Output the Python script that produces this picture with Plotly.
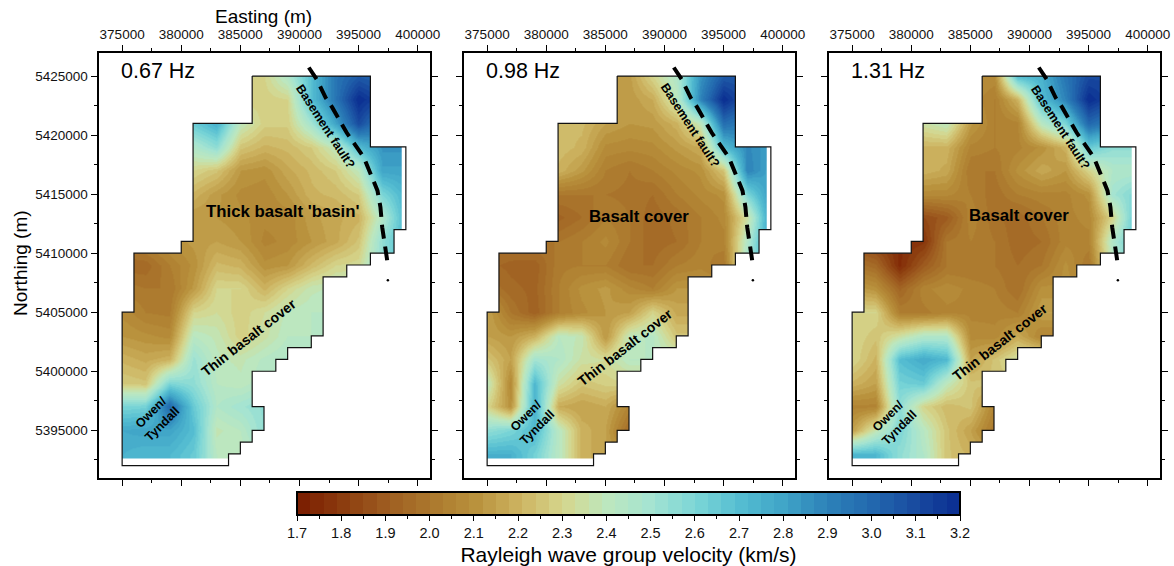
import numpy as np
import plotly.graph_objects as go

W, H = 1174, 566
FONT = "Liberation Sans"

# ---------- data ----------
EASTING = [375000, 377000, 379000, 381000, 383000, 385000, 387000, 389000, 391000, 393000, 395000, 397000, 399000]
NORTHING = [5425000, 5423000, 5421000, 5419000, 5417000, 5415000, 5413000, 5411000, 5409000,
            5407000, 5405000, 5403000, 5401000, 5399000, 5397000, 5395000, 5393000]

V_067 = [
    [2.65, 2.65, 2.65, 2.60, 2.45, 2.30, 2.30, 2.45, 2.70, 2.95, 3.05, 3.00, 3.00],
    [2.65, 2.65, 2.65, 2.65, 2.50, 2.28, 2.28, 2.30, 2.70, 2.95, 3.20, 3.10, 3.00],
    [2.60, 2.60, 2.65, 2.65, 2.75, 2.40, 2.28, 2.28, 2.50, 2.80, 3.10, 2.90, 2.85],
    [2.40, 2.40, 2.45, 2.45, 2.55, 2.25, 2.20, 2.22, 2.27, 2.40, 2.70, 2.85, 2.85],
    [2.25, 2.25, 2.28, 2.30, 2.25, 2.12, 2.10, 2.17, 2.22, 2.27, 2.40, 2.80, 2.80],
    [2.15, 2.15, 2.18, 2.20, 2.13, 2.08, 2.07, 2.12, 2.20, 2.22, 2.27, 2.60, 2.75],
    [2.10, 2.10, 2.12, 2.12, 2.12, 2.10, 2.07, 2.07, 2.14, 2.17, 2.20, 2.45, 2.75],
    [2.00, 2.05, 2.10, 2.13, 2.15, 2.12, 2.05, 2.07, 2.12, 2.17, 2.25, 2.55, 2.75],
    [1.95, 1.95, 2.03, 2.10, 2.22, 2.20, 2.10, 2.12, 2.22, 2.30, 2.32, 2.55, 2.75],
    [2.02, 2.00, 2.00, 2.13, 2.30, 2.30, 2.20, 2.30, 2.38, 2.40, 2.40, 2.40, 2.40],
    [2.08, 2.03, 2.02, 2.30, 2.33, 2.28, 2.33, 2.40, 2.42, 2.42, 2.42, 2.42, 2.42],
    [2.12, 2.10, 2.08, 2.42, 2.38, 2.28, 2.35, 2.42, 2.42, 2.42, 2.42, 2.42, 2.42],
    [2.20, 2.17, 2.20, 2.52, 2.40, 2.38, 2.43, 2.46, 2.46, 2.46, 2.46, 2.46, 2.46],
    [2.27, 2.25, 2.60, 2.55, 2.42, 2.40, 2.45, 2.46, 2.46, 2.46, 2.46, 2.46, 2.46],
    [2.60, 2.62, 3.00, 2.65, 2.45, 2.50, 2.55, 2.55, 2.55, 2.55, 2.55, 2.55, 2.55],
    [2.78, 2.80, 2.80, 2.70, 2.38, 2.42, 2.55, 2.55, 2.55, 2.55, 2.55, 2.55, 2.55],
    [2.75, 2.72, 2.72, 2.65, 2.42, 2.40, 2.45, 2.45, 2.45, 2.45, 2.45, 2.45, 2.45],
]
V_098 = [
    [2.20, 2.20, 2.20, 2.20, 2.18, 2.15, 2.14, 2.30, 2.45, 2.85, 3.05, 3.05, 3.00],
    [2.20, 2.20, 2.20, 2.20, 2.18, 2.14, 2.13, 2.18, 2.40, 2.90, 3.20, 3.05, 3.00],
    [2.22, 2.22, 2.22, 2.22, 2.22, 2.15, 2.12, 2.13, 2.20, 2.40, 2.98, 2.90, 2.85],
    [2.22, 2.22, 2.22, 2.23, 2.20, 2.08, 2.07, 2.08, 2.13, 2.18, 2.70, 2.88, 2.80],
    [2.20, 2.20, 2.20, 2.20, 2.13, 2.03, 2.00, 2.03, 2.07, 2.10, 2.25, 2.90, 2.78],
    [2.00, 2.00, 2.00, 2.00, 2.00, 2.00, 1.99, 1.97, 2.03, 2.07, 2.10, 2.60, 2.85],
    [1.95, 1.95, 1.95, 1.93, 1.97, 2.03, 2.00, 1.95, 1.98, 2.03, 2.07, 2.35, 2.85],
    [1.98, 1.98, 2.00, 2.00, 2.03, 2.07, 2.00, 1.95, 1.97, 2.03, 2.05, 2.45, 2.85],
    [1.95, 1.93, 1.92, 2.02, 2.03, 2.03, 1.97, 1.97, 2.03, 2.05, 2.00, 2.50, 2.85],
    [2.00, 1.95, 1.93, 2.03, 2.10, 2.13, 2.07, 2.03, 2.12, 2.12, 2.10, 2.10, 2.10],
    [2.15, 2.00, 1.92, 2.03, 2.08, 2.12, 2.15, 2.30, 2.17, 2.17, 2.17, 2.17, 2.17],
    [2.15, 2.12, 2.20, 2.42, 2.38, 2.12, 2.40, 2.43, 2.25, 2.25, 2.25, 2.25, 2.25],
    [2.25, 2.15, 2.50, 2.45, 2.35, 2.33, 2.42, 2.42, 2.42, 2.42, 2.42, 2.42, 2.42],
    [2.40, 2.07, 2.72, 2.35, 2.25, 2.28, 2.30, 2.30, 2.30, 2.30, 2.30, 2.30, 2.30],
    [2.30, 2.10, 2.75, 2.18, 2.15, 2.18, 2.05, 2.05, 2.05, 2.05, 2.05, 2.05, 2.05],
    [2.55, 2.60, 2.72, 2.42, 2.20, 2.15, 1.95, 1.95, 1.95, 1.95, 1.95, 1.95, 1.95],
    [2.75, 2.75, 2.62, 2.42, 2.20, 2.15, 2.10, 2.10, 2.10, 2.10, 2.10, 2.10, 2.10],
]
V_131 = [
    [2.30, 2.30, 2.30, 2.30, 2.20, 2.10, 2.08, 2.70, 2.75, 2.95, 3.10, 3.10, 3.00],
    [2.30, 2.30, 2.30, 2.30, 2.20, 2.08, 2.03, 2.20, 2.70, 2.90, 3.20, 3.10, 3.00],
    [2.35, 2.35, 2.35, 2.35, 2.40, 2.13, 2.03, 2.05, 2.42, 2.60, 3.00, 2.90, 2.70],
    [2.20, 2.20, 2.20, 2.20, 2.20, 2.05, 2.03, 2.05, 2.10, 2.20, 2.65, 2.55, 2.55],
    [2.20, 2.20, 2.20, 2.20, 2.17, 2.00, 2.00, 2.10, 2.17, 2.12, 2.30, 2.45, 2.45],
    [2.07, 2.07, 2.07, 2.07, 2.07, 2.03, 1.98, 2.03, 2.05, 2.05, 2.10, 2.50, 2.60],
    [1.85, 1.85, 1.85, 1.85, 1.90, 2.05, 1.98, 1.95, 2.00, 2.05, 2.07, 2.30, 2.70],
    [1.85, 1.80, 1.75, 1.78, 2.00, 2.03, 2.00, 1.95, 1.97, 2.05, 2.05, 2.45, 2.70],
    [2.00, 1.95, 1.75, 1.90, 2.00, 2.00, 2.00, 1.97, 2.00, 2.10, 2.00, 2.40, 2.70],
    [2.15, 2.10, 1.93, 2.05, 2.08, 2.05, 2.03, 1.97, 2.10, 2.10, 2.10, 2.10, 2.10],
    [2.30, 2.30, 2.03, 2.02, 2.05, 2.05, 2.05, 2.03, 2.15, 2.15, 2.15, 2.15, 2.15],
    [2.30, 2.25, 2.35, 2.45, 2.45, 2.08, 2.07, 2.18, 2.05, 2.05, 2.05, 2.05, 2.05],
    [2.30, 2.20, 2.70, 2.78, 2.72, 2.15, 2.25, 2.35, 2.35, 2.35, 2.35, 2.35, 2.35],
    [2.20, 2.15, 2.62, 2.65, 2.40, 2.25, 2.25, 2.25, 2.25, 2.25, 2.25, 2.25, 2.25],
    [2.05, 2.05, 2.55, 2.30, 2.22, 2.25, 2.05, 2.05, 2.05, 2.05, 2.05, 2.05, 2.05],
    [2.15, 2.38, 2.60, 2.42, 2.25, 2.15, 2.00, 2.00, 2.00, 2.00, 2.00, 2.00, 2.00],
    [2.72, 2.72, 2.55, 2.45, 2.25, 2.20, 2.15, 2.15, 2.15, 2.15, 2.15, 2.15, 2.15],
]
PANEL_LABELS = ["0.67 Hz", "0.98 Hz", "1.31 Hz"]
PANEL_VALUES = [V_067, V_098, V_131]

OUTLINE_X = [386000, 396000, 396000, 399000, 399000, 398000, 398000, 396000, 396000, 394000, 394000, 392000, 392000,
             391000, 391000, 389000, 389000, 388000, 388000, 386000, 386000, 387000, 387000, 386000, 386000, 385000,
             385000, 384000, 384000, 375000, 375000, 376000, 376000, 380000, 380000, 381000, 381000, 386000, 386000]
OUTLINE_Y = [5425000, 5425000, 5419000, 5419000, 5412000, 5412000, 5410000, 5410000, 5409000, 5409000, 5408000, 5408000, 5403000,
             5403000, 5402000, 5402000, 5401000, 5401000, 5400000, 5400000, 5397000, 5397000, 5395000, 5395000, 5394000, 5394000,
             5393000, 5393000, 5392000, 5392000, 5405000, 5405000, 5410000, 5410000, 5411000, 5411000, 5421000, 5421000, 5425000]
DATA_EAST_LIMIT = 398650
DATA_SOUTH_LIMIT = 5392600

FAULT_X = [390790, 391500, 392200, 392770, 394000, 395450, 396600, 396850, 397000, 397280, 397420]
FAULT_Y = [5425730, 5424660, 5423200, 5422350, 5420200, 5418100, 5415300, 5413900, 5412200, 5410500, 5409400]
FAULT_DOT_X = [397480]
FAULT_DOT_Y = [5407700]

# colour ramp: velocity -> colour
RAMP_V = [1.7, 1.8, 1.9, 2.0, 2.1, 2.2, 2.3, 2.4, 2.5, 2.6, 2.7, 2.8, 2.9, 3.0, 3.1, 3.2]
RAMP_R = [122, 140, 158, 172, 185, 205, 214, 190, 165, 125, 85, 65, 45, 35, 25, 10]
RAMP_G = [28, 60, 92, 120, 145, 178, 214, 232, 228, 215, 190, 165, 130, 105, 75, 45]
RAMP_B = [0, 15, 32, 45, 60, 95, 140, 190, 210, 215, 210, 200, 185, 175, 160, 145]
VMIN, VMAX, NBANDS = 1.7, 3.2, 50

stops = []
for i in range(NBANDS):
    mid = VMIN + (i + 0.5) * (VMAX - VMIN) / NBANDS
    c = "rgb(%d,%d,%d)" % (np.interp(mid, RAMP_V, RAMP_R), np.interp(mid, RAMP_V, RAMP_G), np.interp(mid, RAMP_V, RAMP_B))
    stops += [[i / NBANDS, c], [(i + 1) / NBANDS, c]]

# ---------- layout helpers ----------
X_RANGE = [373000, 401000]
Y_RANGE = [5391000, 5427000]
PANEL_PX = [(98.5, 429.5), (463.5, 794.5), (828.5, 1159.5)]
TOP_PX, BOTTOM_PX = 52.5, 477.5


def px(x):
    return x / W


def py(y):
    return 1 - y / H


fig = go.Figure()
mask_x = list(np.minimum(OUTLINE_X, DATA_EAST_LIMIT)) + [X_RANGE[0], X_RANGE[0], X_RANGE[1], X_RANGE[1], X_RANGE[0], X_RANGE[0], OUTLINE_X[0]]
mask_y = list(np.maximum(OUTLINE_Y, DATA_SOUTH_LIMIT)) + [Y_RANGE[1], Y_RANGE[0], Y_RANGE[0], Y_RANGE[1], Y_RANGE[1], Y_RANGE[1], OUTLINE_Y[0]]

layout_axes = {}
for i, (vals, (l, r)) in enumerate(zip(PANEL_VALUES, PANEL_PX)):
    n = "" if i == 0 else str(i + 1)
    xa, ya = "x" + n, "y" + n
    fig.add_trace(go.Heatmap(x=EASTING, y=NORTHING, z=vals, coloraxis="coloraxis", zsmooth="best",
                             xaxis=xa, yaxis=ya, hoverinfo="skip"))
    fig.add_trace(go.Scatter(x=mask_x, y=mask_y, mode="none", fill="toself", fillcolor="white",
                             xaxis=xa, yaxis=ya, showlegend=False, hoverinfo="skip"))
    fig.add_trace(go.Scatter(x=OUTLINE_X, y=OUTLINE_Y, mode="lines", line=dict(color="#111", width=1.2),
                             xaxis=xa, yaxis=ya, showlegend=False, hoverinfo="skip"))
    fig.add_trace(go.Scatter(x=FAULT_X, y=FAULT_Y, mode="lines", line=dict(color="black", width=4, dash="14px,8px"),
                             xaxis=xa, yaxis=ya, showlegend=False, hoverinfo="skip"))
    fig.add_trace(go.Scatter(x=FAULT_DOT_X, y=FAULT_DOT_Y, mode="markers", marker=dict(color="black", size=2.5),
                             xaxis=xa, yaxis=ya, showlegend=False, hoverinfo="skip"))
    common = dict(showline=True, linecolor="black", linewidth=2, mirror="ticks", ticks="outside", ticklen=6,
                  tickwidth=1, tickcolor="black", showgrid=False, zeroline=False, tick0=0, dtick=5000,
                  tickformat="d", tickfont=dict(family=FONT, size=13.5, color="#111"),
                  minor=dict(ticks="outside", ticklen=3, tickwidth=1, tickcolor="black", dtick=2500, tick0=0, showgrid=False))
    layout_axes["xaxis" + n] = dict(common, domain=[px(l), px(r)], range=X_RANGE, side="top", anchor=ya)
    layout_axes["yaxis" + n] = dict(common, domain=[py(BOTTOM_PX), py(TOP_PX)], range=Y_RANGE, anchor=xa,
                                    showticklabels=(i == 0))

# minor ticks of the scale bar
fig.add_trace(go.Scatter(x=[VMIN], y=[0], mode="markers", opacity=0, xaxis="x4", yaxis="y4",
                         showlegend=False, hoverinfo="skip"))
layout_axes["xaxis4"] = dict(domain=[px(297), px(960)], range=[VMIN, VMAX], anchor="y4", side="bottom", showgrid=False,
                             zeroline=False, showline=False, showticklabels=False, ticks="outside", ticklen=3,
                             tickwidth=1, tickcolor="black", tick0=1.75, dtick=0.1)
layout_axes["yaxis4"] = dict(domain=[py(515), py(491)], range=[-1, 1], visible=False, anchor="x4")

ann = []


def text(x, y, s, size, bold=False, angle=0, anchor="center"):
    ann.append(dict(xref="paper", yref="paper", x=px(x), y=py(y), text=("<b>%s</b>" % s) if bold else s, showarrow=False,
                    font=dict(family=FONT, size=size, color="black"), textangle=angle, xanchor=anchor, yanchor="middle"))


text(263, 17, "Easting (m)", 19)
text(20, 263, "Northing (m)", 19, angle=-90)
for (l, r), s in zip(PANEL_PX, PANEL_LABELS):
    text(l + 20, 71, s, 21.5, anchor="left")
text(282.7, 211, "Thick basalt 'basin'", 16.8, bold=True)
text(638.7, 216, "Basalt cover", 16.8, bold=True)
text(1018.7, 215, "Basalt cover", 16.8, bold=True)
for x, y in [(249.3, 337.3), (625.3, 346.7), (1000, 341.7)]:
    text(x, y, "Thin basalt cover", 14, bold=True, angle=-38)
for x, y in [(325, 126), (690, 124.7), (1060, 127)]:
    text(x, y, "Basement fault?", 12.5, bold=True, angle=57)
for x, y in [(156.7, 418), (531, 421.7), (893.3, 421.7)]:
    text(x, y, "Owen/<br>Tyndall", 12.5, bold=True, angle=-45)

fig.update_layout(
    width=W, height=H, margin=dict(l=0, r=0, t=0, b=0, autoexpand=False), paper_bgcolor="white", plot_bgcolor="white",
    showlegend=False, annotations=ann,
    coloraxis=dict(cmin=VMIN, cmax=VMAX, colorscale=stops, colorbar=dict(
        orientation="h", lenmode="pixels", len=663, thicknessmode="pixels", thickness=23,
        x=px(628.5), xanchor="center", y=py(491.5), yanchor="top", yref="paper", xpad=0, ypad=0,
        outlinecolor="black", outlinewidth=2, ticks="outside", ticklen=5, tickwidth=1, tickcolor="black",
        tick0=1.7, dtick=0.1, tickformat=".1f", tickfont=dict(family=FONT, size=14.5, color="#111"),
        title=dict(text="Rayleigh wave group velocity (km/s)", side="bottom", font=dict(family=FONT, size=21, color="black")),
    )),
    **layout_axes,
)
fig.write_html("out.html", config=dict(displayModeBar=False),
               post_script="document.body.style.margin='0';document.body.style.overflow='hidden';")
